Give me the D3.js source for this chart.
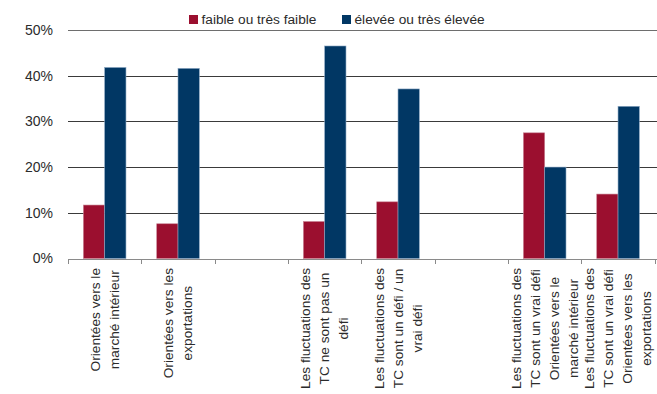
<!DOCTYPE html>
<html><head><meta charset="utf-8">
<script src="https://cdn.jsdelivr.net/npm/d3@7"></script>
<style>
body{margin:0;background:#fff;}
svg text{font-family:"Liberation Sans",Arial,Helvetica,sans-serif;fill:#2b2b2b;}
</style></head>
<body><svg id="c" width="657" height="394"></svg>
<script>
const categories = [
  ["Orientées vers le","marché intérieur"],
  ["Orientées vers les","exportations"],
  [],
  ["Les fluctuations des","TC ne sont pas un","défi"],
  ["Les fluctuations des","TC sont un défi / un","vrai défi"],
  [],
  ["Les fluctuations des","TC sont un vrai défi","Orientées vers le","marché intérieur"],
  ["Les fluctuations des","TC sont un vrai défi","Orientées vers les","exportations"]
];
const seriesNames = ["faible ou très faible","élevée ou très élevée"];
const seriesColors = ["#9b0f2f","#013764"];
const seriesStroke = ["#c98595","#8aa6c2"];
const faible = [11.7, 7.6, null, 8.1, 12.4, null, 27.5, 14.1];
const elevee = [41.8, 41.6, null, 46.5, 37.1, null, 20.0, 33.3];
const yTicks = [0,10,20,30,40,50];

const svg = d3.select("#c");
const left = 68, right = 654.7, y0 = 258.5, yTop = 30;
const x = d3.scaleBand().domain(d3.range(categories.length)).range([left,right]).paddingInner(0).paddingOuter(0);
const y = d3.scaleLinear().domain([0,50]).range([y0,yTop]);
const bw = 21.3;
const x1 = d3.scaleBand().domain([0,1]).range([x.bandwidth()/2-bw, x.bandwidth()/2+bw]).padding(0);

// gridlines
svg.append("g").selectAll("line").data(yTicks.filter(d=>d>0)).join("line")
  .attr("x1",left).attr("x2",657)
  .attr("y1",d=>Math.round(y(d))+0.5).attr("y2",d=>Math.round(y(d))+0.5)
  .attr("stroke",d=>d===50?"#6e6e6e":"#3a3a3a").attr("stroke-width",1);

// y labels
svg.append("g").selectAll("text").data(yTicks).join("text")
  .attr("x",53).attr("y",d=>y(d)).attr("dy","0.35em")
  .attr("text-anchor","end").style("font-size","14px")
  .text(d=>d+"%");

// bars
const data = categories.map((c,i)=>[faible[i],elevee[i]]);
const g = svg.append("g");
data.forEach((vals,i)=>{
  vals.forEach((v,s)=>{
    if(v==null) return;
    g.append("rect")
      .attr("x",x(i)+x1(s)).attr("width",x1.bandwidth())
      .attr("y",y(v)).attr("height",y(0)-y(v))
      .attr("fill",seriesColors[s])
      .attr("stroke",seriesStroke[s]).attr("stroke-width",0.6);
  });
});

// x axis
svg.append("line").attr("x1",left).attr("x2",657).attr("y1",Math.round(y0)+0.5).attr("y2",Math.round(y0)+0.5)
  .attr("stroke","#8a8a8a").attr("stroke-width",1);
const tickPos = d3.range(categories.length+1).map(i=> i<categories.length ? x(i) : right);
svg.append("g").selectAll("line").data(tickPos).join("line")
  .attr("x1",d=>Math.round(d)+0.5).attr("x2",d=>Math.round(d)+0.5)
  .attr("y1",Math.round(y0)).attr("y2",Math.round(y0)+5)
  .attr("stroke","#8a8a8a");

// x labels (rotated, lines centered within block anchored at top)
const fs = 13.7, lh = 19, labelTop = 268;
const measure = svg.append("text").style("font-size",fs+"px").attr("opacity",0);
categories.forEach((lines,i)=>{
  if(!lines.length) return;
  let maxW = 0;
  lines.forEach(l=>{measure.text(l); maxW=Math.max(maxW, measure.node().getComputedTextLength());});
  const cx = x(i)+x.bandwidth()/2;
  const cy = labelTop + maxW/2;
  const n = lines.length;
  const t = svg.append("text").style("font-size",fs+"px")
    .attr("transform",`translate(${cx},${cy}) rotate(-90)`)
    .attr("text-anchor","middle");
  lines.forEach((l,k)=>{
    t.append("tspan").attr("x",0).attr("y",(k-(n-1)/2)*lh).attr("dy","0.35em").text(l);
  });
});
measure.remove();

// legend
const legX = [189, 342];
seriesNames.forEach((nm,s)=>{
  svg.append("rect").attr("x",legX[s]).attr("y",15).attr("width",9).attr("height",9).attr("fill",seriesColors[s]);
  svg.append("text").attr("x",legX[s]+12.5).attr("y",24).style("font-size",fs+"px").text(nm);
});
</script></body></html>
